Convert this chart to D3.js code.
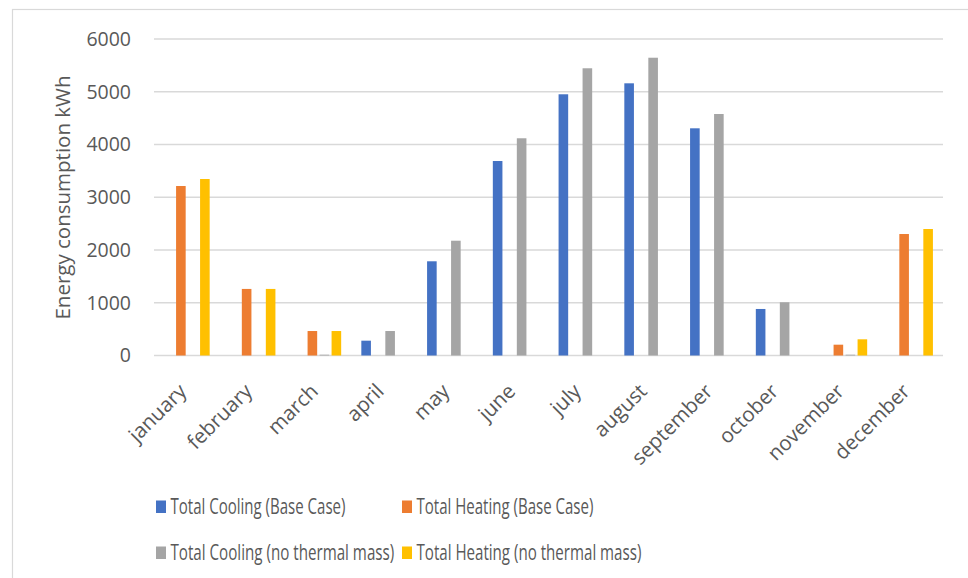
<!DOCTYPE html>
<html>
<head>
<meta charset="utf-8">
<script src="https://cdn.jsdelivr.net/npm/d3@7"></script>
<style>
  html, body { margin: 0; padding: 0; background: #fff; }
  svg { display: block; }
  text { font-family: "Open Sans", "DejaVu Sans", sans-serif; fill: #595959; }
</style>
</head>
<body>
<svg id="chart" width="968" height="578"></svg>
<script>
const months = ["january","february","march","april","may","june","july","august","september","october","november","december"];
const seriesNames = ["Total Cooling (Base Case)","Total Heating (Base Case)","Total Cooling (no thermal mass)","Total Heating (no thermal mass)"];
const seriesColors = ["#4472C4","#ED7D31","#A5A5A5","#FFC000"];
const coolingBase   = [0, 0, 0, 281, 1786, 3687, 4952, 5160, 4307, 882, 0, 0];
const heatingBase   = [3213, 1262, 464, 0, 0, 0, 0, 0, 0, 0, 205, 2303];
const coolingNoMass = [0, 0, 15, 464, 2176, 4118, 5445, 5645, 4578, 1009, 15, 0];
const heatingNoMass = [3346, 1262, 464, 0, 0, 0, 0, 0, 0, 0, 307, 2398];
const yTicks = [0, 1000, 2000, 3000, 4000, 5000, 6000];
const yTitle = "Energy consumption kWh";

const seriesValues = [coolingBase, heatingBase, coolingNoMass, heatingNoMass];

const svg = d3.select("#chart");
const plot = {left: 154, right: 943, top: 39, bottom: 355.5};

// chart border
svg.append("rect").attr("x", 12.5).attr("y", 9.5).attr("width", 1000).attr("height", 640)
  .attr("fill", "none").attr("stroke", "#D9D9D9").attr("stroke-width", 1.2);

const x0 = d3.scaleBand().domain(months).range([plot.left, plot.right]).paddingInner(0.27).paddingOuter(0.135);
const x1 = d3.scaleBand().domain(d3.range(seriesNames.length)).range([0, x0.bandwidth()]).paddingInner(0.2).paddingOuter(0.1);
const y = d3.scaleLinear().domain([0, 6000]).range([plot.bottom, plot.top]);

// gridlines
svg.append("g").selectAll("line").data(yTicks).join("line")
  .attr("x1", plot.left).attr("x2", plot.right)
  .attr("y1", d => y(d)).attr("y2", d => y(d))
  .attr("stroke", "#D9D9D9").attr("stroke-width", 1.5);

// y axis labels
const yAxis = d3.axisLeft(y).tickValues(yTicks).tickSize(0).tickPadding(0).tickFormat(d3.format("d"));
const yg = svg.append("g").attr("transform", `translate(131,0)`).call(yAxis);
yg.select(".domain").remove();
yg.selectAll("text").style("font-size", "19.5px").attr("fill", "#595959").attr("font-family", "Open Sans");

// y title
svg.append("text").attr("transform", `translate(70,197.5) rotate(-90)`)
  .attr("text-anchor", "middle").style("font-size", "20.5px").text(yTitle);

// bars
const groups = svg.append("g").selectAll("g").data(months).join("g")
  .attr("transform", d => `translate(${x0(d)},0)`);
groups.selectAll("rect").data((m, i) => seriesValues.map((s, k) => ({k, v: s[i]})).filter(d => d.v > 0))
  .join("rect")
  .attr("x", d => x1(d.k))
  .attr("width", x1.bandwidth())
  .attr("y", d => y(d.v))
  .attr("height", d => y(0) - y(d.v))
  .attr("fill", d => seriesColors[d.k]);

// x labels
const xAxis = d3.axisBottom(x0).tickSize(0).tickPadding(0);
const xg = svg.append("g").attr("transform", `translate(0,${plot.bottom})`).call(xAxis);
xg.select(".domain").remove();
xg.selectAll("text")
  .style("font-size", "20.5px").attr("fill", "#595959").attr("font-family", "Open Sans")
  .attr("text-anchor", "end")
  .attr("dy", 0).attr("y", 0)
  .attr("transform", "translate(1,37) rotate(-45)");

// legend
const legendPos = [[156, 513], [402, 513], [156, 559], [402, 559]];
const legendLen = [175, 177, 224, 225];
const lg = svg.append("g").selectAll("g").data(seriesNames).join("g")
  .attr("transform", (d, i) => `translate(${legendPos[i][0]},${legendPos[i][1]})`);
lg.append("rect").attr("x", 0).attr("y", -12.5).attr("width", 10).attr("height", 12.5)
  .attr("fill", (d, i) => seriesColors[i]);
lg.append("text").attr("x", 0).attr("y", 0.5).style("font-size", "21px")
  .text(d => d)
  .each(function(d, i) {
    const w = this.getComputedTextLength();
    const s = legendLen[i] / w;
    d3.select(this).attr("transform", `translate(14.5,0) scale(${s},1)`);
  });
</script>
</body>
</html>
